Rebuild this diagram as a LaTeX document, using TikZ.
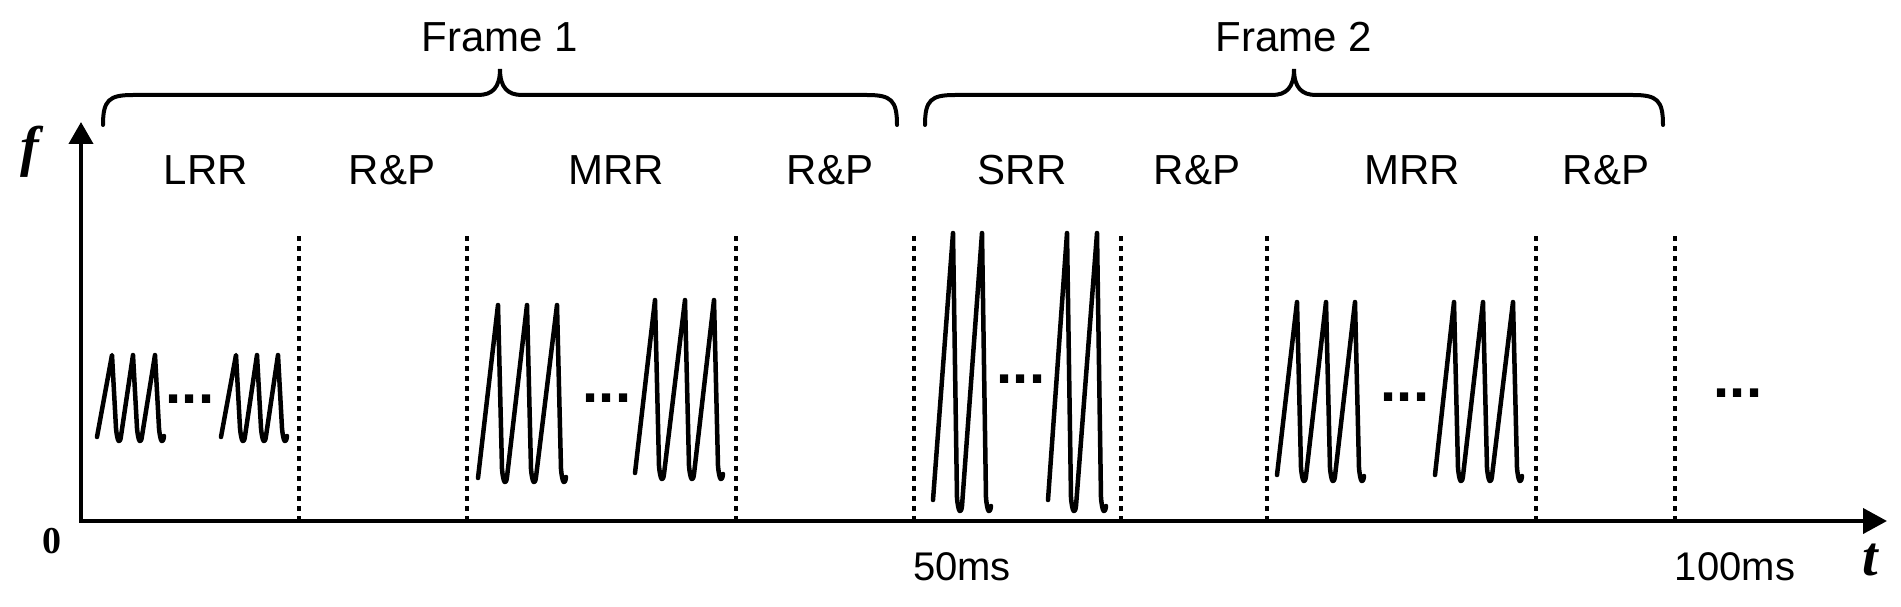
\documentclass[tikz,border=0pt]{standalone}
\usepackage{fontspec}
\setmainfont{Liberation Sans}
\newfontfamily\tnr{Liberation Serif}
\usetikzlibrary{arrows.meta}
\newcommand\wgroup[5]{%
  \draw[wave] (#1,#2) \foreach \p in {#5} { -- (\p,#3) -- (\p+4,#4-14) .. controls (\p+5.5,#4+2) and (\p+8,#4+2) .. (\p+9,#4-6) };%
}
\begin{document}
\begin{tikzpicture}[x=1pt,y=-1pt,
  axis/.style={line width=4pt, line join=miter, {Triangle[length=22pt,width=24pt]}-{Triangle[length=24pt,width=25pt]}},
  wave/.style={line width=4.5pt, line join=round, line cap=round},
  sep/.style={line width=4.5pt, dash pattern=on 5pt off 5pt},
  bracestyle/.style={line width=4pt, line cap=round},
  lbl/.style={font=\fontsize{42}{48}\selectfont, anchor=base, inner sep=0pt},
  ticklbl/.style={font=\fontsize{40}{46}\selectfont, anchor=base, inner sep=0pt},
  dots/.style={font=\bfseries\fontsize{58}{66}\selectfont, anchor=base, inner sep=0pt},
  axlbl/.style={font=\tnr\bfseries\itshape\fontsize{56}{60}\selectfont, inner sep=0pt}]
\useasboundingbox (0,0) rectangle (1901,607);
% axes
\coordinate (O) at (81,521);
\coordinate (ytip) at (81,122);
\coordinate (xtip) at (1887,521);
\draw[axis] (ytip) -- (O) -- (xtip);
\node[axlbl] (flbl) at (30,152) {f};
\node[axlbl] (tlbl) at (1870,560) {t};
\node[font=\tnr\bfseries\fontsize{38}{42}\selectfont, inner sep=0pt] (zero) at (52,541) {0};
\node[ticklbl] (t50) at (962,580) {50ms};
\node[ticklbl] (t100) at (1735,580) {100ms};
% separators
\foreach \x/\n in {299/d1,467/d2,736/d3,914/d4,1121/d5,1267/d6,1536/d7,1675/d8}{
  \coordinate (\n top) at (\x,236);
  \coordinate (\n bot) at (\x,519);
  \draw[sep] (\n top) -- (\n bot);
}
% braces
\draw[bracestyle] (103,125) .. controls (103,100) and (109,95) .. (133,95) -- (478,95)
  .. controls (492,95) and (500,88) .. (500,69) .. controls (500,88) and (508,95) .. (522,95)
  -- (867,95) .. controls (891,95) and (897,100) .. (897,125);
\draw[bracestyle] (925,125) .. controls (925,100) and (931,95) .. (955,95) -- (1272,95)
  .. controls (1286,95) and (1294,88) .. (1294,69) .. controls (1294,88) and (1302,95) .. (1316,95)
  -- (1633,95) .. controls (1657,95) and (1663,100) .. (1663,125);
\node[lbl] (frame1) at (500,52) {Frame 1};
\node[lbl] (frame2) at (1294,52) {Frame 2};
% phase labels
\node[lbl] (l1) at (206,184) {LRR};
\node[lbl] (l2) at (392,184) {R\&P};
\node[lbl] (l3) at (616,184) {MRR};
\node[lbl] (l4) at (830,184) {R\&P};
\node[lbl] (l5) at (1022,184) {SRR};
\node[lbl] (l6) at (1197,184) {R\&P};
\node[lbl] (l7) at (1412,184) {MRR};
\node[lbl] (l8) at (1606,184) {R\&P};
% waves
\wgroup{97}{437}{355}{442}{112,133,155}
\wgroup{221}{437}{355}{442}{236,257,278}
\node[dots] (dots1) at (190,403) {...};
\wgroup{478}{478}{305}{483}{498,527,557}
\wgroup{635}{473}{300}{480}{655,685,714}
\node[dots] (dots2) at (607,402) {...};
\wgroup{933}{500}{233}{512}{953,982}
\wgroup{1048}{500}{233}{512}{1067,1097}
\node[dots] (dots3) at (1021,383) {...};
\wgroup{1277}{475}{302}{482}{1297,1326,1355}
\wgroup{1435}{475}{302}{482}{1454,1483,1513}
\node[dots] (dots4) at (1405,401) {...};
\node[dots] (dots5) at (1738,397) {...};
\end{tikzpicture}
\end{document}
